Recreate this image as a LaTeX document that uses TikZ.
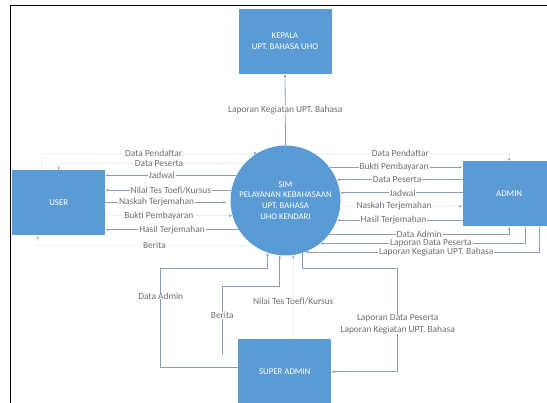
\documentclass[tikz,border=0pt]{standalone}
\usepackage{fontspec}
\setmainfont{Carlito}
\usetikzlibrary{arrows.meta}
\definecolor{boxblue}{RGB}{91,155,213}
\definecolor{flowgray}{RGB}{140,158,180}
\definecolor{textgray}{RGB}{110,110,110}
\definecolor{faintgray}{RGB}{236,239,243}
\begin{document}
\begin{tikzpicture}[x=1pt, y=-1pt,
    entity/.style={rectangle, fill=boxblue, text=white, minimum width=93pt, minimum height=65pt, inner sep=0pt, align=center, font=\fontsize{8.8}{11}\selectfont},
    process/.style={circle, fill=boxblue, text=white, minimum size=110pt, inner sep=0pt, align=center, font=\fontsize{8.7}{10.7}\selectfont},
    flow/.style={draw=flowgray, line width=0.8pt, -{Latex[length=3pt,width=2.6pt]}},
    faint/.style={draw=faintgray, line width=0.8pt, -{Latex[length=3pt,width=2.6pt,color=flowgray]}},
    lbl/.style={fill=white, text=textgray, inner xsep=1pt, inner ysep=0pt, font=\fontsize{9.4}{11.3}\selectfont}]
\useasboundingbox (0,0) rectangle (547,403);
\draw[line width=1.4pt] (10.5,403) -- (10.5,5.5) -- (547,5.5);

\node[entity] (kepala) at (285,41.5) {KEPALA\\UPT. BAHASA UHO};
\node[entity] (user) at (58.7,203) {USER};
\node[entity] (admin) at (509.2,194) {ADMIN};
\node[entity] (super) at (284.8,371.8) {SUPER ADMIN};
\node[process] (sim) at (285.5,200.5) {SIM\\PELAYANAN KEBAHASAAN\\UPT. BAHASA\\UHO KENDARI};

\draw[flow] (sim.north) -- node[lbl] {Laporan Kegiatan UPT. Bahasa} (kepala.south);

\draw[faint] ([xshift=-17pt]user.north) |- node[lbl,pos=0.76] {Data Pendaftar} (sim.121);
\draw[faint] (sim.138) -| node[lbl,pos=0.23] {Data Peserta} (user.north);
\draw[flow] (sim.153) -- node[lbl,pos=0.57] {Jadwal} (user.east |- sim.153);
\draw[flow] (sim.169) -- node[lbl,pos=0.48] {Nilai Tes Toefl/Kursus} (user.east |- sim.169);
\draw[flow, shorten >=4pt] (user.east |- sim.182) -- node[lbl,pos=0.41] {Naskah Terjemahan} (sim.182);
\draw[faint] (user.east |- sim.196) -- node[lbl,pos=0.42] {Bukti Pembayaran} (sim.196);
\draw[flow] (sim.212) -- node[lbl,pos=0.5] {Hasil Terjemahan} (user.east |- sim.212);
\draw[faint] (sim.235) -| node[lbl,pos=0.23] {Berita} ([xshift=-21pt]user.south);

\draw[faint] (sim.58) -| node[lbl,pos=0.22] {Data Pendaftar} (admin.north);
\draw[flow] (sim.37) -- node[lbl,pos=0.485] {Bukti Pembayaran} (admin.west |- sim.37);
\draw[flow] (admin.west |- sim.22) -- node[lbl,pos=0.52] {Data Peserta} (sim.22);
\draw[flow] (admin.west |- sim.8) -- node[lbl,pos=0.49] {Jadwal} (sim.8);
\draw[faint] (sim.-6) -- node[lbl,pos=0.44] {Naskah Terjemahan} (admin.west |- sim.-6);
\draw[flow] (admin.west |- sim.-21) -- node[lbl,pos=0.55] {Hasil Terjemahan} (sim.-21);
\draw[flow] (sim.-38) -| node[lbl,pos=0.25] {Data Admin} (admin.south);
\draw[flow] ([xshift=16pt]admin.south) |- node[lbl,pos=0.73] {Laporan Data Peserta} (sim.-51);
\draw[flow] ([xshift=30pt]admin.south) |- node[lbl,pos=0.72] {Laporan Kegiatan UPT. Bahasa} (sim.-69);

\coordinate (beritaend) at (222.3,355);
\draw[flow] ([yshift=4.5pt]super.west) -| node[lbl,pos=0.86] {Data Admin} (160.7,268.3) -| (sim.251);
\draw[flow] (beritaend) |- node[lbl,pos=0.29] {Berita} ([yshift=-31.5pt]sim.264) -- (sim.264);
\draw[faint] ([xshift=8.5pt]super.north) -- node[lbl,pos=0.45] {Nilai Tes Toefl/Kursus} (sim.-82);
\draw[flow] (sim.-72) |- (397.7,268.3) |- node[lbl,pos=0.27,align=center] {Laporan Data Peserta\\Laporan Kegiatan UPT. Bahasa} (super.east);
\end{tikzpicture}
\end{document}
